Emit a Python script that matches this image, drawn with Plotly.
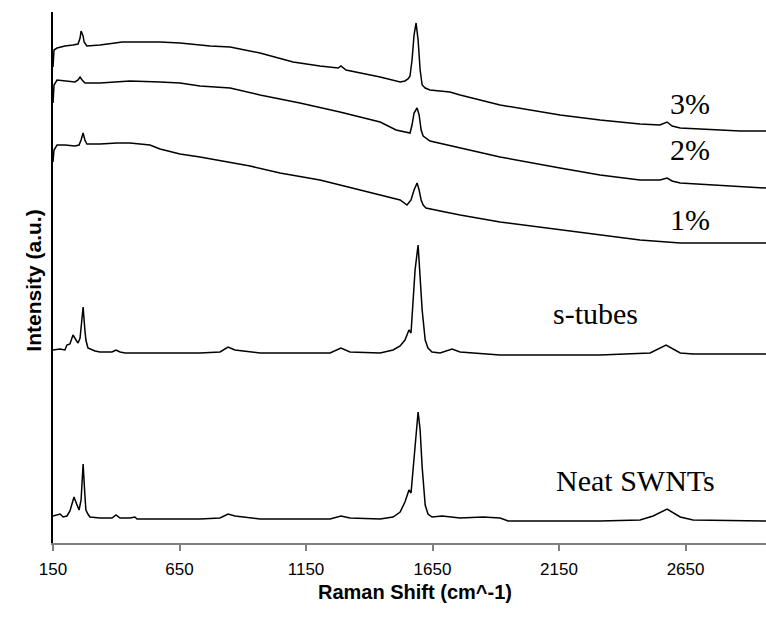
import plotly.graph_objects as go

# Raman shift (cm^-1) and intensity (a.u.) for each spectrum
neat_x = [150, 178, 190, 205, 217, 233, 245, 253, 261, 269, 276, 280, 288, 296, 336, 383, 399, 415, 454, 474, 482,
          731, 810, 842, 869, 909, 968, 1245, 1288, 1324, 1443, 1494, 1522, 1541, 1557, 1565, 1573, 1581, 1593, 1601,
          1609, 1621, 1632, 1648, 1688, 1759, 1850, 1917, 1949, 2312, 2470, 2522, 2577, 2629, 2680, 2968]
neat_y = [27, 29, 26, 27, 32, 46, 38, 33, 43, 79, 48, 33, 29, 26, 25, 25, 28, 25, 25, 26, 24,
          24, 25, 29, 27, 26, 24, 24, 27, 25, 24, 26, 31, 41, 53, 50, 73, 103, 131, 113,
          76, 38, 29, 26, 27, 25, 26, 25, 22, 22, 23, 27, 34, 26, 23, 22]

stubes_x = [150, 178, 197, 205, 217, 229, 241, 249, 257, 269, 276, 280, 288, 316, 336, 383, 399, 415, 435,
            731, 810, 842, 869, 909, 968, 1245, 1288, 1324, 1443, 1494, 1522, 1541, 1557, 1565, 1573, 1581, 1593,
            1601, 1609, 1621, 1632, 1648, 1680, 1727, 1759, 1917, 2312, 2510, 2573, 2629, 2680, 2968]
stubes_y = [193, 194, 193, 198, 199, 208, 203, 200, 205, 236, 213, 203, 195, 192, 191, 191, 193, 191, 190,
            190, 191, 196, 193, 192, 190, 190, 195, 191, 190, 193, 197, 203, 213, 210, 243, 273, 298,
            268, 233, 203, 195, 191, 190, 194, 191, 188, 188, 190, 198, 190, 189, 189]

p1_x = [150, 154, 166, 197, 237, 253, 261, 269, 276, 284, 336, 403, 454, 533, 573, 652, 731, 850, 929, 1047,
        1205, 1364, 1522, 1549, 1565, 1577, 1589, 1597, 1605, 1613, 1624, 1700, 1759, 1917, 2154, 2312, 2470,
        2629, 2787, 2968]
p1_y = [381, 393, 398, 398, 397, 398, 403, 410, 403, 399, 399, 400, 400, 398, 394, 389, 386, 381, 377, 370,
        363, 353, 343, 338, 343, 353, 360, 353, 343, 338, 335, 331, 328, 321, 313, 308, 303,
        300, 300, 300]

p2_x = [150, 154, 166, 197, 237, 249, 257, 265, 276, 336, 403, 454, 573, 652, 731, 850, 968, 1126, 1284, 1443,
        1506, 1561, 1569, 1577, 1589, 1597, 1605, 1613, 1640, 1759, 1917, 2154, 2312, 2470, 2549, 2577, 2597,
        2629, 2866, 2968]
p2_y = [440, 458, 463, 462, 461, 463, 466, 463, 460, 460, 461, 462, 461, 460, 457, 455, 448, 440, 431, 421,
        413, 410, 418, 430, 435, 428, 413, 407, 402, 395, 386, 375, 368, 363, 363, 365, 362,
        360, 356, 355]

p3_x = [150, 154, 166, 197, 229, 249, 257, 261, 269, 273, 284, 336, 395, 423, 573, 652, 771, 850, 968, 1099,
        1205, 1277, 1288, 1308, 1443, 1522, 1541, 1553, 1561, 1569, 1577, 1585, 1593, 1601, 1609, 1621, 1640,
        1719, 1759, 1917, 2154, 2312, 2470, 2549, 2577, 2597, 2629, 2866, 2968]
p3_y = [476, 493, 495, 497, 498, 499, 505, 512, 507, 501, 497, 498, 500, 501, 501, 500, 497, 496, 490, 481,
        477, 475, 477, 473, 466, 461, 462, 464, 467, 483, 508, 520, 503, 473, 458, 455, 453,
        451, 448, 438, 428, 423, 419, 418, 421, 417, 415, 412, 412]

labels = ["Neat SWNTs", "s-tubes", "1%", "2%", "3%"]
label_x = [2451, 2296, 2668, 2668, 2668]
label_y = [63, 230, 324, 394, 440]

tick_vals = [150, 650, 1150, 1650, 2150, 2650]

fig = go.Figure()
for xs, ys in [(neat_x, neat_y), (stubes_x, stubes_y), (p1_x, p1_y), (p2_x, p2_y), (p3_x, p3_y)]:
    fig.add_trace(go.Scatter(x=xs, y=ys, mode="lines", line=dict(color="black", width=1.5),
                             showlegend=False, hoverinfo="skip"))

for t, lx, ly in zip(labels, label_x, label_y):
    fig.add_annotation(x=lx, y=ly, xref="x", yref="y", text=t, showarrow=False,
                       font=dict(family="Liberation Serif", size=30, color="black"))

fig.add_annotation(x=0.508, y=-0.117, xref="paper", yref="paper", text="<b>Raman Shift (cm^-1)</b>",
                   showarrow=False, font=dict(family="Liberation Sans", size=20, color="black"))
fig.add_annotation(x=-0.0463, y=0.495, xref="paper", yref="paper", text="<b>Intensity (a.u.)</b>",
                   textangle=-90, showarrow=False, font=dict(family="Liberation Sans", size=21, color="black"))

fig.update_layout(
    width=766, height=618,
    margin=dict(l=53, r=0, t=12, b=75, autoexpand=False),
    paper_bgcolor="white", plot_bgcolor="white",
    xaxis=dict(range=[150, 2968], tickvals=tick_vals, ticktext=[str(v) for v in tick_vals],
               ticks="outside", ticklen=6, tickwidth=1.5, tickcolor="#808080",
               showline=True, linecolor="#808080", linewidth=2, showgrid=False, zeroline=False,
               automargin=False, ticklabelstandoff=4,
               tickfont=dict(family="Liberation Sans", size=17, color="black")),
    yaxis=dict(range=[0, 531], showline=True, linecolor="black", linewidth=1.5, automargin=False,
               showticklabels=False, ticks="", showgrid=False, zeroline=False),
)

fig.write_html("out.html", config={"displayModeBar": False},
               post_script="document.body.style.margin='0';document.body.style.overflow='hidden';")
